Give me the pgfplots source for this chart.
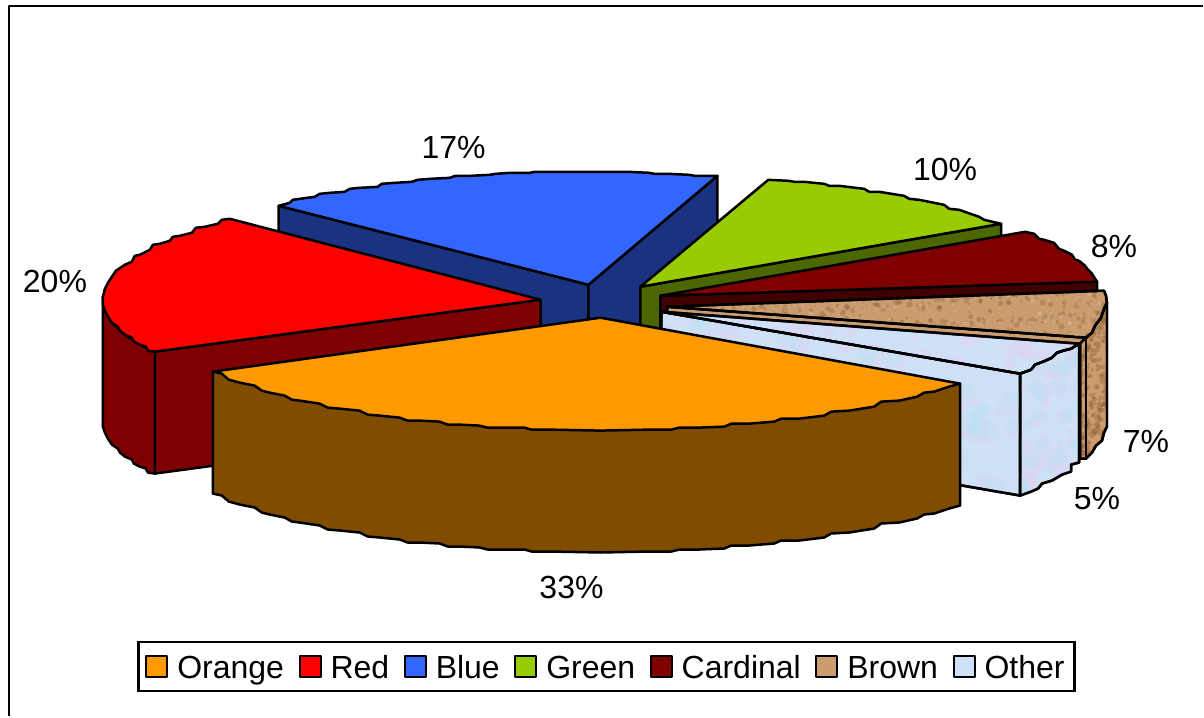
\documentclass[border=0pt]{standalone}
\usepackage{pgfplots}
\pgfplotsset{compat=1.18}
\usepackage{fontspec}
\setmainfont{Liberation Sans}
\definecolor{cOrange}{HTML}{FF9900}\definecolor{wOrange}{HTML}{7F4C00}
\definecolor{cRed}{HTML}{FF0000}\definecolor{wRed}{HTML}{7F0000}
\definecolor{cBlue}{HTML}{3366FF}\definecolor{wBlue}{HTML}{193380}
\definecolor{cGreen}{HTML}{99CC00}\definecolor{wGreen}{HTML}{4C6600}
\definecolor{cCard}{HTML}{800000}\definecolor{wCard}{HTML}{400000}
\definecolor{cBrown}{HTML}{CA9C6E}\definecolor{dBrown}{HTML}{85552C}\definecolor{lBrown}{HTML}{E8C8A0}
\definecolor{cOther}{HTML}{CFE1F6}\definecolor{pOther}{HTML}{E4D0F2}\definecolor{bOther}{HTML}{B8E3F4}

% mottled surface: a jittered scatter of soft specks clipped to a region
\newcommand{\mottle}[8]{%
  \pgfplotsextra{\begin{scope}
    \clip plot coordinates {#1} -- cycle;
    \foreach \i in {1,...,#6}{
      \pgfmathsetmacro{\px}{#2+#4*mod(\i*0.7548777+0.2*sin(\i*23)+1,1)}
      \pgfmathsetmacro{\py}{#3+#5*mod(\i*0.5698403+0.25*sin(\i*19)+1,1)}
      \pgfmathsetmacro{\pr}{1+#8*mod(\i*0.3713,1)}
      \fill[#7] (axis cs:\px,\py) circle[radius=\pr*0.5pt];
    }
  \end{scope}}}

% outlines shared by the textured faces
\newcommand{\brownTop}{(668,307)(1105,291)(1107,296)(1108,303)(1105,309)(1102,318)(1096,326)(1093,333)(1087,338)}
\newcommand{\brownSide}{(1087,338)(1093,333)(1096,326)(1102,318)(1105,309)(1108,303)(1108,427)(1105,433)(1103,441)(1097,446)(1093,453)(1087,459)(1081,459)(1081,344)}
\newcommand{\otherFront}{(662,312)(1021,374)(1021,496)(662,434)}
\newcommand{\otherSide}{(1021,374)(1032,370)(1036,365)(1044,362)(1053,358)(1058,353)(1064,351)(1072,349)(1080,344)(1080,463)(1072,465)(1072,472)(1063,475)(1053,481)(1043,484)(1039,489)(1032,492)(1021,496)}
\newcommand{\otherTop}{(662,312)(1080,344)(1072,349)(1064,351)(1058,353)(1053,358)(1044,362)(1036,365)(1032,370)(1021,374)}

\begin{document}
\begin{tikzpicture}
\begin{axis}[
  x=0.5pt,y=0.5pt,
  xmin=0,xmax=1204,ymin=0,ymax=717,y dir=reverse,
  hide axis,clip=false,
  every axis plot/.append style={line width=1.25pt,line join=round,draw=black},
  legend image code/.code={\draw[#1,line width=1pt] (0pt,-5.25pt) rectangle (10.5pt,5.25pt);},
  legend columns=7,
  legend cell align=left,
  legend style={at={(axis cs:607,667)},anchor=center,draw=black,line width=1.1pt,fill=white,
    font=\fontsize{16}{18}\selectfont,inner xsep=3.5pt,inner ysep=3.6pt,
    /tikz/every even column/.append style={column sep=5.8pt},
    /tikz/every odd column/.append style={column sep=3pt},
    nodes={inner xsep=1.5pt,inner ysep=1pt,text height=14pt,text depth=1.5pt}},
]
% legend keys, in the order of the categories
\addlegendimage{fill=cOrange}\addlegendentry{Orange}
\addlegendimage{fill=cRed}\addlegendentry{Red}
\addlegendimage{fill=cBlue}\addlegendentry{Blue}
\addlegendimage{fill=cGreen}\addlegendentry{Green}
\addlegendimage{fill=cCard}\addlegendentry{Cardinal}
\addlegendimage{fill=cBrown}\addlegendentry{Brown}
\addlegendimage{fill=cOther}\addlegendentry{Other}

% page background and the open frame
\addplot[forget plot,fill=white,draw=none] coordinates {(0,0)(1204,0)(1204,717)(0,717)} -- cycle;
\addplot[forget plot,line width=1.1pt,fill=none] coordinates {(9,717)(9,6)(1204,6)};

% Blue: walls, then top
\addplot[forget plot,fill=wBlue] coordinates {(279,206)(589,285)(589,407)(279,328)} -- cycle;
\addplot[forget plot,fill=wBlue] coordinates {(589,285)(718,176)(718,298)(589,407)} -- cycle;
\addplot[forget plot,fill=cBlue] coordinates {(589,285)(279,206)(290,203)(293,200)(300,199)(315,197)(320,194)(330,193)(345,192)(350,189)(360,188)(378,187)(382,184)(395,183)(412,182)(418,180)(430,179)(450,178)(456,176)(470,176)(490,175)(496,174)(510,173)(530,173)(535,172)(589,172)(630,172)(650,173)(655,174)(670,174)(690,175)(695,176)(718,176)} -- cycle;

% Green
\addplot[forget plot,fill=wGreen] coordinates {(641,287)(1002,224)(1002,346)(641,409)} -- cycle;
\addplot[forget plot,fill=cGreen] coordinates {(641,287)(769,180)(790,181)(795,182)(805,182)(825,184)(830,186)(840,186)(865,189)(870,192)(880,192)(905,196)(910,199)(920,200)(945,205)(950,209)(960,210)(980,217)(985,220)(1002,224)} -- cycle;

% Cardinal
\addplot[forget plot,fill=wCard] coordinates {(661,296)(1098,282)(1098,404)(661,418)} -- cycle;
\addplot[forget plot,fill=cCard] coordinates {(661,296)(1026,232)(1035,234)(1040,239)(1045,240)(1055,243)(1060,249)(1065,251)(1073,255)(1076,260)(1080,261)(1086,266)(1089,270)(1093,274)(1098,282)} -- cycle;

% Brown
\addplot[forget plot,fill=cBrown] coordinates {(668,307)(1087,338)(1087,459)(668,429)} -- cycle;
\addplot[forget plot,fill=cBrown] coordinates {\brownSide} -- cycle;
\addplot[forget plot,fill=cBrown] coordinates {\brownTop} -- cycle;
\mottle{\brownTop}{660}{290}{450}{50}{650}{dBrown,opacity=.3}{2.2}
\mottle{\brownTop}{660}{290}{450}{50}{300}{lBrown,opacity=.45}{2}
\mottle{\brownSide}{1080}{300}{30}{160}{260}{dBrown,opacity=.3}{2.2}
\addplot[forget plot,fill=none] coordinates {\brownSide} -- cycle;
\addplot[forget plot,fill=none] coordinates {\brownTop} -- cycle;
\addplot[forget plot,fill=none] coordinates {(1087,338)(1087,459)};

% Other
\addplot[forget plot,fill=cOther] coordinates {\otherFront} -- cycle;
\addplot[forget plot,fill=cOther] coordinates {\otherSide} -- cycle;
\addplot[forget plot,fill=cOther] coordinates {\otherTop} -- cycle;
\mottle{\otherFront}{662}{312}{360}{185}{170}{pOther,opacity=.35}{12}
\mottle{\otherFront}{650}{300}{375}{200}{190}{bOther,opacity=.4}{10}
\mottle{\otherSide}{1021}{344}{60}{152}{60}{pOther,opacity=.4}{10}
\mottle{\otherSide}{1015}{340}{70}{160}{50}{bOther,opacity=.4}{9}
\mottle{\otherTop}{662}{312}{420}{62}{110}{pOther,opacity=.4}{8}
\addplot[forget plot,fill=none] coordinates {\otherFront} -- cycle;
\addplot[forget plot,fill=none] coordinates {\otherSide} -- cycle;
\addplot[forget plot,fill=none] coordinates {\otherTop} -- cycle;

% Red
\addplot[forget plot,fill=wRed] coordinates {(155,352)(541,300)(541,422)(155,474)} -- cycle;
\addplot[forget plot,fill=wRed] coordinates {(155,352)(140,345)(125,335)(112,323)(105,311)(103,297)(103,427)(105,433)(108,439)(112,445)(118,449)(120,453)(125,457)(132,460)(134,464)(140,467)(146,469)(148,473)(155,474)} -- cycle;
\addplot[forget plot,fill=cRed] coordinates {(541,300)(155,352)(148,351)(146,347)(140,345)(134,342)(132,338)(125,335)(120,331)(118,327)(112,323)(108,317)(105,311)(103,305)(103,297)(105,289)(108,283)(112,277)(116,271)(125,265)(132,262)(135,256)(140,255)(150,250)(153,245)(160,244)(170,241)(173,237)(180,236)(192,233)(196,228)(205,227)(218,224)(222,220)(230,219)} -- cycle;

% Orange
\addplot[forget plot,fill=wOrange] coordinates {(213,372)(213,494)(222,496)(229,502)(240,505)(255,508)(262,513)(270,515)(285,518)(292,522)(300,523)(320,526)(328,530)(340,531)(360,533)(368,537)(380,538)(400,540)(408,543)(420,543)(440,544)(448,547)(460,547)(480,548)(488,550)(500,550)(525,550)(532,552)(550,552)(601,553)(650,552)(672,552)(680,550)(700,550)(725,549)(732,546)(750,546)(775,544)(782,541)(800,541)(825,538)(832,534)(850,533)(875,529)(882,524)(900,523)(918,519)(925,515)(935,514)(950,509)(961,506)(961,384)} -- cycle;
\addplot[forget plot,fill=cOrange] coordinates {(601,318)(213,372)(222,374)(229,380)(240,383)(255,386)(262,391)(270,393)(285,396)(292,400)(300,401)(320,404)(328,408)(340,409)(360,411)(368,415)(380,416)(400,418)(408,421)(420,421)(440,422)(448,425)(460,425)(480,426)(488,428)(500,428)(525,428)(532,430)(550,430)(601,431)(650,430)(672,430)(680,428)(700,428)(725,427)(732,424)(750,424)(775,422)(782,419)(800,419)(825,416)(832,412)(850,411)(875,407)(882,402)(900,401)(918,397)(925,393)(935,392)(950,387)(961,384)} -- cycle;

% percentage labels
\node[font=\fontsize{16}{18}\selectfont] at (axis cs:454,148) {17\%};
\node[font=\fontsize{16}{18}\selectfont] at (axis cs:946,170) {10\%};
\node[font=\fontsize{16}{18}\selectfont] at (axis cs:1115,247) {8\%};
\node[font=\fontsize{16}{18}\selectfont] at (axis cs:55,282) {20\%};
\node[font=\fontsize{16}{18}\selectfont] at (axis cs:1147,442) {7\%};
\node[font=\fontsize{16}{18}\selectfont] at (axis cs:1098,499) {5\%};
\node[font=\fontsize{16}{18}\selectfont] at (axis cs:572,588) {33\%};
\end{axis}
\end{tikzpicture}
\end{document}
